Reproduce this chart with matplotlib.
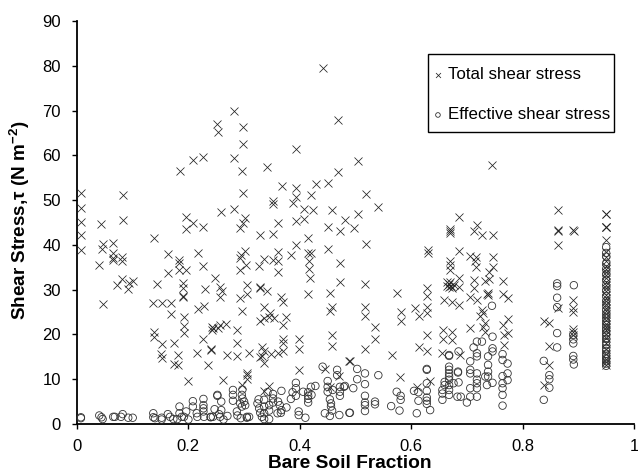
import matplotlib
matplotlib.use("Agg")
import matplotlib.pyplot as plt
from matplotlib.patches import Rectangle

plt.rcParams["font.family"] = ["Liberation Sans", "DejaVu Sans"]
plt.rcParams["mathtext.fontset"] = "custom"
plt.rcParams["mathtext.rm"] = "Liberation Sans"
plt.rcParams["mathtext.bf"] = "Liberation Sans:bold"
plt.rcParams["mathtext.default"] = "bf"

# total shear stress
total_x = [.007,.007,.007,.043,.083,.083,.185,.208,.227,.252,.253,.281,.298,.298,.281,.296,.298,.259,.281,.302,.298,.196,.208,.227,.196,.293,
           .341,.368,.352,.352,.387,.394,.394,.421,.429,.451,.407,.423,.361,.394,.407,.458,.442,.468,.394,.468,.481,.451,
           .504,.518,.541,.504,.498,.745,.686,.718,.670,.864,.950,.950,.864,.891,
           .007,.138,.046,.044,.040,.065,.065,.065,.065,.080,.080,.080,.072,.093,.092,.100,.046,.163,.184,.184,.184,.163,.196,.217,.227,.248,
           .144,.191,.191,.191,.191,.229,.257,.260,.256,.137,.152,.169,.169,.228,.217,.192,.192,.192,.138,.138,.153,.174,.227,.242,.245,.242,
           .257,.254,.267,.240,.240,.151,.153,.181,.215,.270,.175,.181,.235,.200,.262,.302,.294,.293,.303,.293,.326,.336,.352,.361,.361,.361,
           .384,.394,.329,.352,.415,.415,.421,.417,.417,.418,.451,.473,.473,.473,.455,.457,.455,.415,.305,.305,.293,.297,.329,.329,.342,.367,
           .369,.336,.347,.335,.329,.345,.354,.376,.369,.288,.288,.399,.399,.369,.369,.333,.333,.329,.336,.336,.308,.288,.348,.361,.369,.399,
           .445,.458,.458,.489,.305,.305,.305,.296,.344,.336,.471,.454,
           .518,.670,.670,.712,.728,.746,.863,.892,.863,.630,.630,.685,.706,.717,.715,.717,.746,.746,.740,.740,.732,.670,.670,.670,.686,.670,
           .664,.673,.685,.676,.517,.574,.764,.764,.773,.712,.712,.706,.718,.738,.738,.736,.629,.629,.659,.673,.686,.517,.517,.582,.582,.607,
           .614,.629,.629,.727,.729,.723,.839,.848,.891,.891,.891,.863,.773,.764,.773,.766,.766,.706,.733,.729,.733,.535,.535,.629,.629,.614,
           .657,.657,.673,.673,.517,.565,.490,.656,.688,.891,.891,.891,.848,.848,.839,.580,.610,.634,
           .95,.95,.95,.95,.95,.95,.95,.95,.95,.95,.95,.95,.95,.95,.95,.95,.95,.95,.95,.95,.95,.95,.95,.95,.95,.95,.95,.95,.95,.95,.95,.95,
           .007,.668,.668,.665,.671,.95,.95,.95,.95]
total_y = [51.6,48.2,45.2,44.7,51.2,45.6,56.4,58.9,59.6,67,65.3,70,66.4,62.5,59.3,56.4,51.6,47.4,48,46.1,45,46.2,45,44.1,43.6,43.7,
           57.3,53.1,49.7,49.1,49.4,52.8,50.8,51.2,53.5,53.9,48,47.8,44.8,45.3,45.7,47.7,79.6,67.8,61.4,56.3,45.5,44.1,
           58.7,51.4,48.4,46.8,43.7,57.9,46.2,44.4,43.6,47.7,46.8,44.1,43.3,43.3,
           42.2,41.5,40.2,39,35.4,40.4,38.1,37,36.6,37.2,36.3,32.3,31.1,31.4,30.2,31.9,26.7,38,36.6,35.9,34.5,33.8,34.4,38.1,35.3,32.7,
           31.2,31.6,30.3,28.6,28.3,30.2,30.5,29.8,28.4,27,27,27,24.6,26.4,25.6,23.9,21.9,20.3,20.6,19.5,17.8,18,18.9,21.7,21.4,21,
           22.1,21.4,22.3,16.5,16.8,15.6,14.7,15.3,15.9,15.4,13.4,13.1,13.2,9.6,9.8,38.7,37.8,37,35.5,34.4,35.3,36.8,36.6,38.5,36.3,33.9,
           37.8,40,42.1,42.4,41.5,38.3,38.1,36.3,34.6,32.5,39,35.9,31.8,43,29.3,26.1,25.3,29,31,29,28.1,25.3,30.3,30.7,29.6,28.4,
           27.3,26.2,24.9,23.6,22.9,23.8,23.6,23.8,22.1,21,18.2,19,16.7,18.9,18.2,17.1,15.2,14.9,13.6,16.2,15.9,15.2,15.6,15.9,16.2,12.1,
           12.2,19.9,17.4,14.1,11.3,10.9,10,8.7,8.5,7.4,10.7,8.3,
           40.2,43.1,42.6,43,42.1,42.1,43,43,40,38.9,38.1,38.6,37.5,37.4,36.3,35.1,37.2,35.1,34,32.3,32,36.3,35.5,34.4,32.5,31.8,
           30.9,30.3,30.7,31.1,31.3,29.3,32,29,28.2,32.2,30.3,28.4,27.8,29.3,28.7,29,30.3,28.6,27.7,27.3,26.6,26.2,24.1,25.1,23,25.8,
           24.1,26.2,24.7,25.4,24.7,24.2,23,22.6,27.8,25.8,25.1,26,23.4,22.1,20.4,19.9,17.6,21.4,22.5,21.7,20.6,21.6,19,19.9,16.2,17.3,
           21,18.9,20.6,18.8,16.8,15.4,14.1,15.9,15.4,21.3,20.6,19.9,17.4,13.2,8.6,10.4,8.3,9.5,
           46.8,44.1,43.9,41.1,38.4,37.2,36.5,35.3,34.6,34,33.2,32.5,31.8,31.1,30.3,29.6,28.9,28.2,27.5,26.8,26,25.3,24.6,23.9,23.2,22.4,21.7,20.9,20.1,19.2,18.1,16.8,
           38.9,31.2,30.5,31.7,30.9,15.6,14.5,13.8,13.2]

# effective shear stress
effective_x = [.007,.007,.04,.044,.046,.065,.068,.079,.082,.092,.1,.137,.137,.14,.152,.152,.163,.167,.173,.18,.184,.184,.188,.192,.196,.2,
               .208,.208,.215,.216,.227,.227,.227,.227,.228,.24,.24,.244,.247,.252,.252,.259,.255,.257,.263,.27,.259,.28,.28,.28,.287,.288,
               .294,.297,.296,.297,.3,.293,.302,.296,.305,.305,.309,.326,.324,.327,.329,.332,.336,.336,.336,.336,.345,.345,.345,.342,.352,.352,
               .352,.36,.361,.364,.366,.367,.367,.376,.384,.387,.393,.393,.393,.398,.398,.406,.41,.415,.415,.415,.415,.42,.421,.428,.441,.445,
               .45,.45,.45,.454,.456,.456,.458,.454,.459,.467,.467,.472,.472,.472,.479,.471,.489,
               .503,.517,.541,.503,.517,.496,.481,.517,.517,.517,.517,.535,.535,.49,.564,.574,.581,.581,.579,.61,.605,.613,.613,.628,.628,.628,.628,
               .628,.628,.628,.634,.656,.656,.656,.66,.66,.668,.668,.668,.668,.668,.668,.668,.668,.668,.668,.676,.685,.685,.684,.684,.683,.689,.7,
               .706,.706,.706,.706,.706,.712,.718,.718,.718,.718,.718,.718,.718,.718,.727,.733,.736,.738,.738,.738,.738,.746,.746,.746,.746,.745,
               .764,.764,.764,.764,.764,.764,.764,.773,.773,.773,.838,.848,.848,.848,.838,.862,.862,.862,.862,.862,.862,.892,.891,.891,.891,.891,.891,.892,
               .95,.95,.95,.95,.95,.95,.95,.95,.95,.95,.95,.95,.95,.95,.95,.95,.95,.95,.95,.95,.95,.95,.95,.95,.95,.95,.95,.95,.95,.95,.95,.95]
effective_y = [1.5,1.3,1.9,1.5,1.1,1.6,1.6,1.6,2.2,1.4,1.4,2.4,1.5,1.3,1,1.4,2.2,1.6,1.1,1.1,3.9,2.4,1.6,1.6,2.8,1,
               5.1,3.9,2.4,1.6,5.6,4.2,3.5,2.8,1.6,1.6,1.5,1.6,3.3,6.5,6.3,5,2.2,1.6,1,1.8,3.1,7.6,6.5,5.2,2.8,1.9,
               1.3,7.7,6.5,5.7,5,4.6,4.2,3.9,1.6,1.4,1.6,5.5,4.6,3.5,2.5,1.6,5.4,3.9,2.4,1.1,1.1,4.2,3,7.1,6.7,5.7,
               4.8,2.4,5,4.2,2.5,7.4,3.1,3.7,5.6,7.1,9.2,8,6.3,2.8,2,7.2,1.4,7.1,6.3,5.6,4.8,8.3,6.5,8.5,12.8,2.4,
               9.6,8.3,7.2,5.5,4.6,3.9,3,1.8,7.6,12.1,10.9,8.3,7.2,6.3,8.3,2,2.5,
               12.3,11.3,10.9,10,8.9,8,8.5,6.3,4.8,4.2,2.9,5,4.4,2.5,4,7.2,6.3,5.4,3,2.4,7.4,7.1,5.2,12.3,12.1,9.1,7.4,
               5.9,5.2,4.5,3.1,7.6,6.8,5.4,9.4,8.7,15.4,15.2,12.8,12.1,11.3,10.6,9.9,8.7,7.6,6.5,9.1,16.2,9.3,11.7,11.5,6.1,6.1,4.8,
               14,12.1,11.3,8,6.1,17.1,15.8,15.1,18.4,11.3,9.9,9.1,8,6.1,18.4,10.6,8.7,15.1,13.2,11.7,10.6,19.5,16.9,16.2,9.2,26.4,
               15.6,14.3,10.7,9.1,8,6.5,4.1,13.5,11.3,9.8,14.1,10.9,10,8.1,5.4,31.4,30.8,28.2,26.1,20.3,17.1,31,19.9,18.9,18,15.2,14.4,13.3,
               39.5,38.2,37.4,35.8,34.6,33.4,32.2,31,29.8,28.6,27.4,26.5,25.4,24.5,23.7,22.9,22.2,21.5,20.9,20.3,19.7,19,18.3,17.6,16.9,16.3,15.7,15.1,14.6,14,13.5,13]

x_ticks = [0, 0.2, 0.4, 0.6, 0.8, 1]
x_tick_labels = ["0", "0.2", "0.4", "0.6", "0.8", "1"]
y_ticks = [0, 10, 20, 30, 40, 50, 60, 70, 80, 90]

fig = plt.figure(figsize=(6.38, 4.75), dpi=100)
ax = fig.add_axes([77/638, 1 - 424/475, 557/638, 403/475])

ax.scatter(total_x, total_y, marker="x", s=33, c="#222222", linewidths=0.55,
           label="Total shear stress", clip_on=False, zorder=3)
ax.scatter(effective_x, effective_y, marker="o", s=29, facecolors="none", edgecolors="#333333",
           linewidths=0.6, label="Effective shear stress", clip_on=False, zorder=3)

ax.set_xlim(0, 1)
ax.set_ylim(0, 90)
ax.set_xticks(x_ticks)
ax.set_xticklabels(x_tick_labels)
ax.set_yticks(y_ticks)
ax.tick_params(labelsize=12, width=1.0, length=3.5, color="black")
ax.tick_params(axis="x", pad=7)
ax.tick_params(axis="y", pad=8)
ax.spines["top"].set_visible(False)
ax.spines["right"].set_visible(False)
ax.spines["left"].set_linewidth(1.3)
ax.spines["bottom"].set_linewidth(1.3)

ax.set_xlabel("Bare Soil Fraction", fontsize=13.8, fontweight="bold", labelpad=1)
ax.xaxis.set_label_coords((349.5-77)/557, -(464-424)/403, transform=ax.transAxes)
ax.xaxis.label.set_va("center")
fig.text(20/638, 1 - 220/475, "Shear Stress,\u03c4 (N m$^{-2}$)", rotation=90, fontsize=13.6,
         fontweight="bold", ha="center", va="center")

# frame drawn on its own, the spacing inside is uneven
ax.add_patch(Rectangle(((428-77)/557, (424-132)/403), 186/557, 78/403, transform=ax.transAxes,
                       facecolor="white", edgecolor="black", linewidth=1.0, zorder=4))
leg = ax.legend(loc="upper left", bbox_to_anchor=((430.5-77)/557, (424-67)/403), borderaxespad=0,
                fontsize=12.2, scatterpoints=1, markerscale=0.62, frameon=False,
                labelspacing=1.5, handletextpad=0.15, borderpad=0, handlelength=0.88)
leg.set_zorder(5)

plt.savefig("out.png", dpi=100)
